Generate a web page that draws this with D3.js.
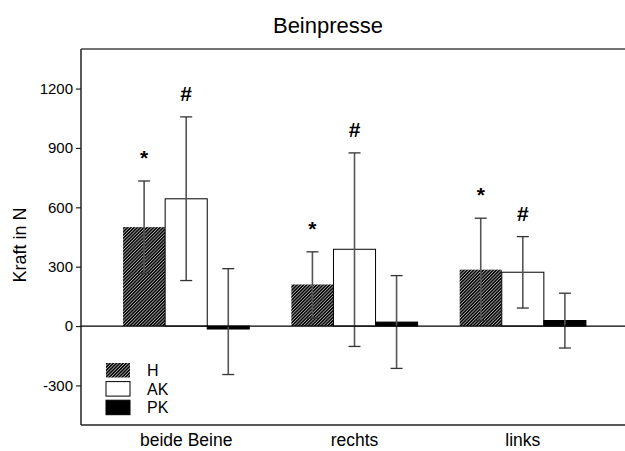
<!DOCTYPE html>
<html>
<head>
<meta charset="utf-8">
<script src="https://cdn.jsdelivr.net/npm/d3@7"></script>
<style>
  html, body { margin: 0; padding: 0; background: #fff; }
  svg { display: block; font-family: Arial, "Liberation Sans", sans-serif; }
</style>
</head>
<body>
<svg id="chart" width="625" height="451"></svg>
<script>
// ---- data ----
const categories = ["beide Beine", "rechts", "links"];
const seriesNames = ["H", "AK", "PK"];
const valuesH  = [500, 210, 285];
const valuesAK = [643, 388, 272];
const valuesPK = [-15, 20, 28];
const errHighH  = [733, 375, 545];
const errLowH   = [267, 40, 27];
const errHighAK = [1057, 875, 452];
const errLowAK  = [230, -103, 91];
const errHighPK = [290, 255, 166];
const errLowPK  = [-245, -214, -111];
const marksH  = ["*", "*", "*"];
const marksAK = ["#", "#", "#"];
const yTicks = [-300, 0, 300, 600, 900, 1200];
const yDomain = [-500, 1400];
const title = "Beinpresse";
const yLabel = "Kraft in N";

// ---- layout ----
const svg = d3.select("#chart");
const mLeft = 81, mTop = 49, mBottom = 425, mRight = 628;

const x0 = d3.scaleBand().domain(categories).range([mLeft, mRight]).padding(0.25);
const x1 = d3.scaleBand().domain(seriesNames).range([0, x0.bandwidth()]).padding(0);
const y = d3.scaleLinear().domain(yDomain).range([mBottom, mTop]);

// hatch pattern
const defs = svg.append("defs");
const pat = defs.append("pattern")
  .attr("id", "hatch").attr("patternUnits", "userSpaceOnUse")
  .attr("width", 2.3).attr("height", 2.3)
  .attr("patternTransform", "rotate(45)");
pat.append("rect").attr("width", 2.3).attr("height", 2.3).attr("fill", "#eee");
pat.append("rect").attr("width", 1.75).attr("height", 2.3).attr("fill", "#0a0a0a");

const rows = categories.map((c, i) => ({
  cat: c,
  bars: [
    { s: "H",  v: valuesH[i],  hi: errHighH[i],  lo: errLowH[i],  mark: marksH[i] },
    { s: "AK", v: valuesAK[i], hi: errHighAK[i], lo: errLowAK[i], mark: marksAK[i] },
    { s: "PK", v: valuesPK[i], hi: errHighPK[i], lo: errLowPK[i], mark: null }
  ]
}));

const fillOf = { H: "url(#hatch)", AK: "#fff", PK: "#000" };
const strokeOf = { H: "none", AK: "#000", PK: "#000" };

// frame lines
svg.append("line").attr("x1", mLeft).attr("x2", 625).attr("y1", mTop).attr("y2", mTop)
  .attr("stroke", "#444").attr("stroke-width", 1.5);
svg.append("line").attr("x1", mLeft).attr("x2", 625).attr("y1", mBottom).attr("y2", mBottom)
  .attr("stroke", "#222").attr("stroke-width", 1.5);

// y axis
const yAxis = svg.append("g").attr("transform", `translate(${mLeft},0)`)
  .call(d3.axisLeft(y).tickValues(yTicks).tickFormat(d => String(d))
    .tickSize(5).tickPadding(3).tickSizeOuter(0));
yAxis.select(".domain").attr("stroke", "#222").attr("stroke-width", 1.5)
  .attr("d", `M0,${mTop}V${mBottom}`);
yAxis.selectAll(".tick line").attr("stroke", "#222").attr("stroke-width", 1.2);
yAxis.selectAll(".tick text").attr("font-size", "15px").attr("fill", "#000")
  .attr("font-family", "Arial, 'Liberation Sans', sans-serif");

// groups
const g = svg.append("g");
const grp = g.selectAll("g.grp").data(rows).join("g")
  .attr("class", "grp")
  .attr("transform", d => `translate(${x0(d.cat)},0)`);

grp.selectAll("rect.bar").data(d => d.bars).join("rect")
  .attr("class", "bar")
  .attr("x", d => x1(d.s))
  .attr("width", x1.bandwidth())
  .attr("y", d => y(Math.max(0, d.v)))
  .attr("height", d => Math.abs(y(d.v) - y(0)))
  .attr("fill", d => fillOf[d.s])
  .attr("stroke", d => strokeOf[d.s])
  .attr("stroke-width", 1);

// zero line
svg.append("line").attr("x1", mLeft).attr("x2", 625).attr("y1", y(0)).attr("y2", y(0))
  .attr("stroke", "#000").attr("stroke-width", 1.3);

// error bars
const eb = grp.selectAll("g.eb").data(d => d.bars).join("g").attr("class", "eb")
  .attr("transform", d => `translate(${x1(d.s) + x1.bandwidth() / 2},0)`);
eb.append("line").attr("x1", 0).attr("x2", 0)
  .attr("y1", d => y(d.hi)).attr("y2", d => y(d.lo))
  .attr("stroke", "#555").attr("stroke-width", 1.6);
eb.append("line").attr("x1", -6).attr("x2", 6)
  .attr("y1", d => y(d.hi)).attr("y2", d => y(d.hi))
  .attr("stroke", "#333").attr("stroke-width", 1.3);
eb.append("line").attr("x1", -6).attr("x2", 6)
  .attr("y1", d => y(d.lo)).attr("y2", d => y(d.lo))
  .attr("stroke", "#333").attr("stroke-width", 1.3);

// significance marks
grp.selectAll("text.mark").data(d => d.bars.filter(b => b.mark)).join("text")
  .attr("class", "mark")
  .attr("x", d => x1(d.s) + x1.bandwidth() / 2)
  .attr("y", d => y(d.hi) - 16)
  .attr("text-anchor", "middle")
  .attr("font-size", "21px").attr("font-weight", "bold")
  .text(d => d.mark);

// category labels
svg.selectAll("text.cat").data(categories).join("text")
  .attr("class", "cat")
  .attr("x", d => x0(d) + x0.bandwidth() / 2)
  .attr("y", 446)
  .attr("text-anchor", "middle")
  .attr("font-size", "17.5px")
  .text(d => d);

// title
svg.append("text").attr("x", 328).attr("y", 33).attr("text-anchor", "middle")
  .attr("font-size", "22px").text(title);

// y label
svg.append("text").attr("transform", "translate(26,245) rotate(-90)")
  .attr("text-anchor", "middle").attr("font-size", "18px").text(yLabel);

// legend
const leg = svg.append("g").attr("transform", "translate(106,363)");
const li = leg.selectAll("g").data(seriesNames).join("g")
  .attr("transform", (d, i) => `translate(0,${i * 18.6})`);
li.append("rect").attr("width", 24).attr("height", 14.5)
  .attr("fill", d => fillOf[d]).attr("stroke", d => strokeOf[d]).attr("stroke-width", 1);
li.append("text").attr("x", 41).attr("y", 13).attr("font-size", "16px").text(d => d);
</script>
</body>
</html>
